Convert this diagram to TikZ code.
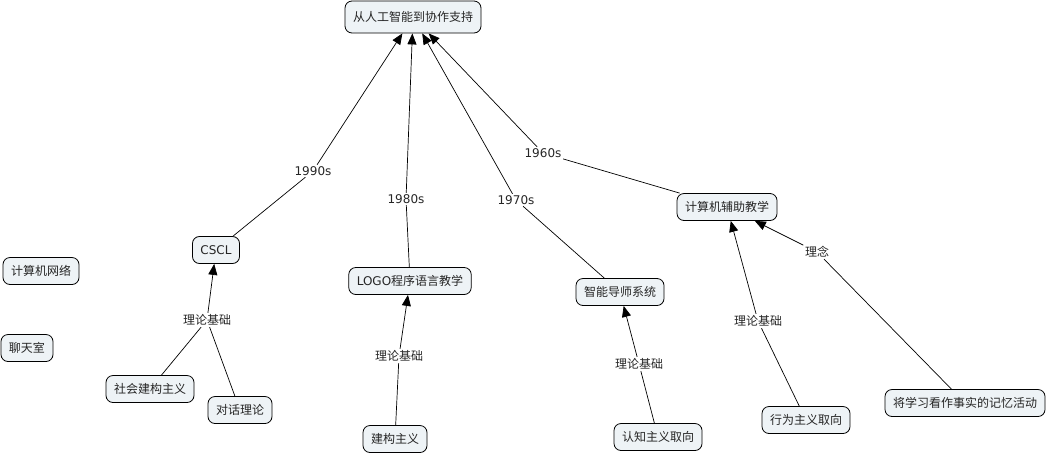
\documentclass[tikz,border=0pt]{standalone}
\usepackage{fontspec}
\setmainfont{DejaVu Sans}
\newfontfamily\cjk{Noto Sans CJK SC}
\usetikzlibrary{arrows.meta}
\definecolor{boxfill}{HTML}{EEF3F6}
\definecolor{txt}{HTML}{262626}
\begin{document}
\begin{tikzpicture}[x=1pt,y=-1pt,
  concept/.style={draw=black,fill=boxfill,rounded corners=7pt,line width=0.8pt,
    inner xsep=8pt,inner ysep=0pt,minimum height=27pt,text=txt,
    font=\fontsize{12}{13}\selectfont},
  lbl/.style={inner sep=1.5pt,text=txt,font=\fontsize{12}{13}\selectfont},
  link/.style={draw=black,line width=0.7pt},
  arr/.style={link,-{Triangle[length=11pt,width=9pt]}}]
\useasboundingbox (0,0) rectangle (1048,456);
% concepts
\node[concept,minimum height=32pt] (top) at (413,17) {\cjk 从人工智能到协作支持};
\node[concept] (cscl) at (216,250) {CSCL};
\node[concept] (net) at (41,271) {\cjk 计算机网络};
\node[concept] (chat) at (27,348) {\cjk 聊天室};
\node[concept] (logo) at (410,281) {LOGO{\cjk 程序语言教学}};
\node[concept] (its) at (620,292) {\cjk 智能导师系统};
\node[concept] (cai) at (727,207) {\cjk 计算机辅助教学};
\node[concept] (sc) at (150,389) {\cjk 社会建构主义};
\node[concept] (dlg) at (240,410) {\cjk 对话理论};
\node[concept] (con) at (395,439) {\cjk 建构主义};
\node[concept] (cog) at (658,437) {\cjk 认知主义取向};
\node[concept] (beh) at (806,420) {\cjk 行为主义取向};
\node[concept] (mem) at (965,403) {\cjk 将学习看作事实的记忆活动};
% link labels
\node[lbl] (l90) at (313,171) {1990s};
\node[lbl] (l80) at (406,199) {1980s};
\node[lbl] (l70) at (516,200) {1970s};
\node[lbl] (l60) at (543,153) {1960s};
\node[lbl] (t1) at (207,320) {\cjk 理论基础};
\node[lbl] (t2) at (399,356) {\cjk 理论基础};
\node[lbl] (t3) at (639,364) {\cjk 理论基础};
\node[lbl] (t4) at (758,321) {\cjk 理论基础};
\node[lbl] (idea) at (817,252) {\cjk 理念};
% connectors
\draw[link] (cscl) -- (l90); \draw[arr] (l90) -- (top);
\draw[link] (logo) -- (l80); \draw[arr] (l80) -- (top);
\draw[link] (its) -- (l70); \draw[arr] (l70) -- (top);
\draw[link] (cai) -- (l60); \draw[arr] (l60) -- (top);
\draw[link] (sc) -- (t1); \draw[link] (dlg) -- (t1); \draw[arr] (t1) -- (cscl);
\draw[link] (con) -- (t2); \draw[arr] (t2) -- (logo);
\draw[link] (cog) -- (t3); \draw[arr] (t3) -- (its);
\draw[link] (beh) -- (t4); \draw[arr] (t4) -- (cai);
\draw[link] (mem) -- (idea); \draw[arr] (idea) -- (cai);
\end{tikzpicture}
\end{document}
